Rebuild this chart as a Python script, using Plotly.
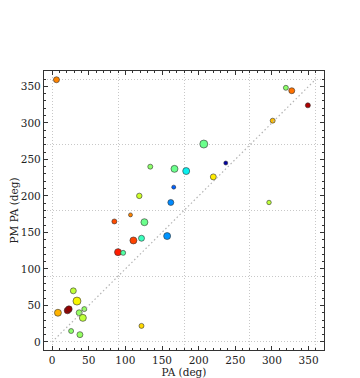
import plotly.graph_objects as go

# Position angle vs proper-motion position angle (deg)
pa = [6, 319, 327, 349, 301, 207, 237, 183, 220, 296,
      134, 167, 166, 119, 162, 107, 85, 126, 157, 111,
      122, 90, 97, 29, 34, 21, 23, 44, 8, 37,
      42, 122, 26, 38]
pm_pa = [359, 348, 344, 324, 303, 271, 245, 234, 226, 191,
         240, 237, 212, 200, 191, 174, 165, 164, 145, 139,
         142, 123, 122, 70, 56, 43, 45, 45, 40, 40,
         33, 22, 15, 10]
# colour value (0..1 on the jet scale) and marker size
cval = [0.77, 0.52, 0.79, 0.96, 0.71, 0.48, 0.03, 0.36, 0.66, 0.58,
        0.52, 0.48, 0.22, 0.60, 0.26, 0.77, 0.83, 0.48, 0.27, 0.84,
        0.42, 0.88, 0.45, 0.58, 0.65, 0.97, 0.98, 0.53, 0.72, 0.53,
        0.58, 0.68, 0.52, 0.53]
msize = [6, 5, 6, 5, 5, 8, 4, 7, 6, 4.5,
         5, 7, 4, 5.5, 6, 4, 5, 7, 7, 7,
         6, 7, 5, 6, 8, 6.5, 6.5, 5, 7, 6,
         7, 5, 5, 6]

# matplotlib "jet"
jet = [[0.0, "rgb(0,0,128)"], [0.11, "rgb(0,0,255)"], [0.125, "rgb(0,0,255)"],
       [0.34, "rgb(0,219,255)"], [0.35, "rgb(0,230,247)"], [0.375, "rgb(21,255,226)"],
       [0.64, "rgb(239,255,8)"], [0.65, "rgb(247,246,0)"], [0.66, "rgb(255,236,0)"],
       [0.89, "rgb(255,19,0)"], [0.91, "rgb(232,0,0)"], [1.0, "rgb(128,0,0)"]]

font = "DejaVu Serif"

fig = go.Figure()

# one-to-one reference line on the overlay axes
fig.add_trace(go.Scatter(
    x=[0, 360], y=[0, 360], xaxis="x2", yaxis="y2",
    mode="lines", line=dict(color="#b4b4b4", width=1.2, dash="1.5px,2.5px"),
    hoverinfo="skip", showlegend=False
))

fig.add_trace(go.Scatter(
    x=pa, y=pm_pa, mode="markers",
    marker=dict(size=msize, color=cval, colorscale=jet, cmin=0, cmax=1, opacity=1,
                line=dict(color="#333333", width=0.6)),
    showlegend=False
))

axis_common = dict(
    range=[-11, 371], showgrid=False, zeroline=False, automargin=False,
    showline=True, linecolor="#333333", linewidth=1.2, mirror="allticks",
    ticks="inside", ticklen=4, tickcolor="#333333", dtick=50, tick0=0,
    tickfont=dict(family=font, size=10.5, color="#222222"),
    minor=dict(ticks="inside", ticklen=2, dtick=10, tickcolor="#333333", showgrid=False),
)
grid_common = dict(
    range=[-11, 371], tickvals=[0, 90, 180, 270, 360], showticklabels=False,
    ticks="", showgrid=True, gridcolor="#c8c8c8", griddash="1px,2px", gridwidth=1,
    zeroline=False, showline=False,
)

# the page body adds an 8px offset, so the figure is slightly smaller than the window
fig.update_layout(
    width=352, height=370,
    margin=dict(l=36, r=36, t=63, b=28),
    paper_bgcolor="white", plot_bgcolor="white",
    font=dict(family=font, size=10.5, color="#222222"),
    xaxis=dict(title=dict(text="PA (deg)", font=dict(family=font, size=10.5), standoff=2),
               **axis_common),
    yaxis=dict(title=dict(text="PM PA (deg)", font=dict(family=font, size=10.5), standoff=3),
               **axis_common),
    xaxis2=dict(overlaying="x", anchor="y", **grid_common),
    yaxis2=dict(overlaying="y", anchor="x", **grid_common),
)

fig.write_html("out.html")
